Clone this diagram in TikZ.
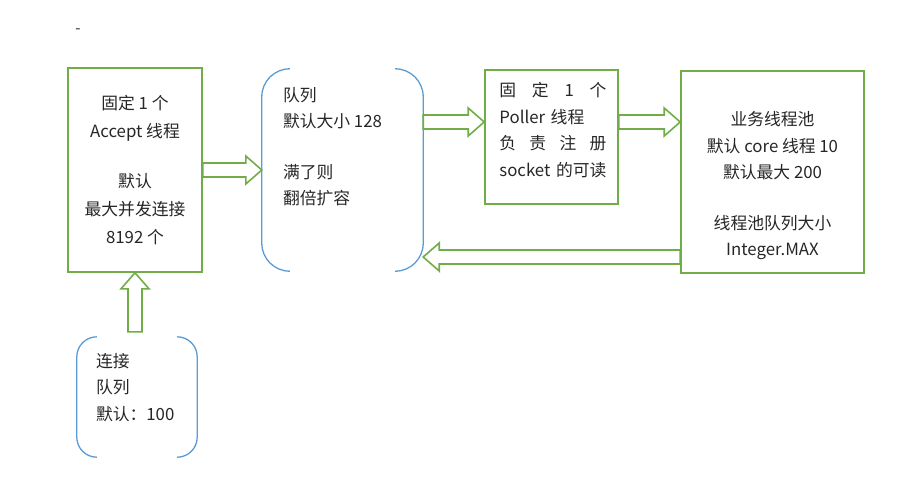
\documentclass[tikz,border=0pt]{standalone}
\usepackage{fontspec}
\setmainfont{Noto Sans CJK SC}
\usetikzlibrary{calc}

\definecolor{boxgreen}{HTML}{70AD47}
\definecolor{queueblue}{HTML}{5B9BD5}
\definecolor{textgray}{HTML}{262626}

\tikzset{
  greenbox/.style={draw=boxgreen, line width=1.6pt, inner sep=0pt},
  bracket/.style={draw=queueblue, line width=1.3pt},
  fatarrow/.style={draw=boxgreen, line width=1.6pt, fill=white, line join=miter},
  txt/.style={font=\fontsize{16.8pt}{26.5pt}\selectfont, text=textgray, inner sep=0pt}
}

% open block arrow from #1 to #2
\newcommand{\blockarrow}[2]{%
  \coordinate (ba-s) at (#1);
  \coordinate (ba-e) at (#2);
  \coordinate (ba-h) at ($(ba-e)!16pt!(ba-s)$);
  \draw [fatarrow] ($(ba-s)!7pt!90:(ba-e)$) -- ($(ba-h)!7pt!-90:(ba-s)$)
    -- ($(ba-h)!14pt!-90:(ba-s)$) -- (ba-e) -- ($(ba-h)!14pt!90:(ba-s)$)
    -- ($(ba-h)!7pt!90:(ba-s)$) -- ($(ba-s)!7pt!-90:(ba-e)$) -- cycle;
}

\begin{document}
\begin{tikzpicture}[x=1pt, y=-1pt]
\useasboundingbox (0,0) rectangle (900,479);

% Small mark at the top
\node [txt, font=\fontsize{15pt}{16pt}\selectfont] (dash) at (78,31) {-};

% Accept thread box
\node [greenbox, txt, minimum width=134pt, minimum height=204pt, align=center,
  font=\fontsize{16.8pt}{28pt}\selectfont] (accept) at (135,170)
  {固定 1 个\\Accept 线程\\[22pt]默认\\最大并发连接\\8192 个};

% Queue: two round brackets
\node [minimum width=161pt, minimum height=202pt, inner sep=0pt] (queue) at (342.5,170) {};
\draw [bracket, rounded corners=28pt] ([xshift=28pt]queue.north west) -- (queue.north west)
  -- (queue.south west) -- ([xshift=28pt]queue.south west);
\draw [bracket, rounded corners=28pt] ([xshift=-28pt]queue.north east) -- (queue.north east)
  -- (queue.south east) -- ([xshift=-28pt]queue.south east);
\node [txt, align=left, anchor=north west] (queuetext) at ([shift={(21pt,-18pt)}]queue.north west)
  {队列\\默认大小 128\\[24pt]满了则\\翻倍扩容};

% Poller thread box
\node [greenbox, minimum width=133pt, minimum height=134pt] (poller) at (551.5,137) {};
\node [txt, text width=107pt, align=left, anchor=north west] (pollertext)
  at ([shift={(15pt,-13pt)}]poller.north west)
  {固\hfill 定\hfill 1\hfill 个\\Poller 线程\\负\hfill 责\hfill 注\hfill 册\\\mbox{socket 的可读}};

% Worker thread pool box
\node [greenbox, minimum width=183pt, minimum height=202pt] (worker) at (772.5,172) {};
\node [txt, align=center, anchor=north] (workertext) at ([yshift=-41pt]worker.north)
  {业务线程池\\默认 core 线程 10\\默认最大 200\\[24pt]线程池队列大小\\Integer.MAX};

% Connection queue
\node [minimum width=120pt, minimum height=120pt, inner sep=0pt] (conn) at (137,397) {};
\draw [bracket, rounded corners=20pt] ([xshift=20pt]conn.north west) -- (conn.north west)
  -- (conn.south west) -- ([xshift=20pt]conn.south west);
\draw [bracket, rounded corners=20pt] ([xshift=-20pt]conn.north east) -- (conn.north east)
  -- (conn.south east) -- ([xshift=-20pt]conn.south east);
\node [txt, align=left, anchor=north west] (conntext) at ([shift={(19pt,-16pt)}]conn.north west)
  {连接\\队列\\默认：100};

% Block arrows
\blockarrow{accept.east}{queue.west}
\coordinate (pollerin) at ([yshift=15pt]poller.west);
\blockarrow{queue.east |- pollerin}{pollerin}
\coordinate (pollerout) at ([yshift=15pt]poller.east);
\blockarrow{pollerout}{worker.west |- pollerout}
\coordinate (workerout) at ([yshift=-85pt]worker.west);
\blockarrow{workerout}{queue.east |- workerout}
\coordinate (connout) at ([yshift=5pt]conn.north);
\blockarrow{accept.south |- connout}{accept.south}
\end{tikzpicture}
\end{document}
